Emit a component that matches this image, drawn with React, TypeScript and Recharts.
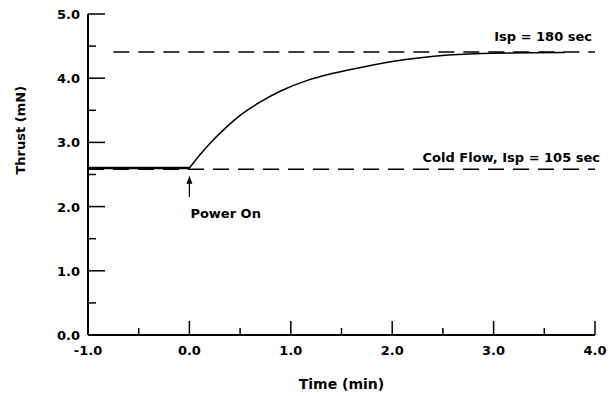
import React from 'react';
import { ComposedChart, Line, XAxis, YAxis, ReferenceLine } from 'recharts';

// thrust trace (time in min, thrust in mN)
const times = [-1.0, 0.0, 0.1, 0.2, 0.36, 0.5, 0.7, 0.9, 1.17, 1.43, 1.76, 2.0, 2.28, 2.55, 3.0, 3.7];
const coldFlow = [2.6, 2.6];
const heated = [2.6, 2.8, 2.98, 3.23, 3.42, 3.63, 3.8, 3.97, 4.08, 4.19, 4.26, 4.32, 4.36, 4.39, 4.4];

const xTicks = [-1, -0.5, 0, 0.5, 1, 1.5, 2, 2.5, 3, 3.5, 4];
const yTicks = [0, 0.5, 1, 1.5, 2, 2.5, 3, 3.5, 4, 4.5, 5];

const ispHot = 4.41;
const ispCold = 2.58;
const hotLabel = 'Isp = 180 sec';
const coldLabel = 'Cold Flow, Isp = 105 sec';

const data = times.map((t, i) => ({
  t,
  flat: i < coldFlow.length ? coldFlow[i] : null,
  curve: i >= 1 ? heated[i - 1] : null,
}));

const FONT = '"DejaVu Sans", sans-serif';

const isMajor = (v: number) => Math.abs(v - Math.round(v)) < 1e-6;

const YTick = (props: any) => {
  const { x, y, payload } = props;
  const ax = x + 8;
  const major = isMajor(payload.value);
  return (
    <g>
      <line x1={ax} x2={ax + (major ? 17 : 8)} y1={y} y2={y} stroke="#000" strokeWidth={1.5} />
      {major && (
        <text x={x} y={y + 5} textAnchor="end" fontFamily={FONT} fontWeight="bold" fontSize={13} fill="#000">
          {payload.value.toFixed(1)}
        </text>
      )}
    </g>
  );
};

const XTick = (props: any) => {
  const { x, y, payload } = props;
  const ay = y - 8;
  const major = isMajor(payload.value);
  return (
    <g>
      <line x1={x} x2={x} y1={ay} y2={ay - (major ? 14 : 7)} stroke="#000" strokeWidth={1.5} />
      {major && (
        <text x={x} y={ay + 20} textAnchor="middle" fontFamily={FONT} fontWeight="bold" fontSize={13} fill="#000">
          {payload.value.toFixed(1)}
        </text>
      )}
    </g>
  );
};

const PowerOn = (props: any) => {
  const { x1, y1, y2 } = props;
  const top = Math.min(y1, y2);
  const bottom = Math.max(y1, y2);
  return (
    <g>
      <line x1={x1} x2={x1} y1={top + 6} y2={bottom} stroke="#000" strokeWidth={1.2} />
      <polygon points={`${x1},${top} ${x1 - 3},${top + 8} ${x1 + 3},${top + 8}`} fill="#000" />
      <text x={x1 + 1} y={bottom + 21} fontFamily={FONT} fontWeight="bold" fontSize={13} fill="#000">
        Power On
      </text>
    </g>
  );
};

const lineLabel = (text: string, dx: number, dy: number) => (p: any) => {
  const vb = p.viewBox;
  return (
    <text x={vb.x + vb.width + dx} y={vb.y - dy} textAnchor="end" fontFamily={FONT} fontWeight="bold" fontSize={13} fill="#000">
      {text}
    </text>
  );
};

export default function App() {
  return (
    <div style={{ position: 'absolute', left: 0, top: 0, background: '#fff' }}>
      <ComposedChart width={616} height={396} data={data} margin={{ top: 14, right: 21, bottom: 21, left: 28 }}>
        <XAxis
          dataKey="t"
          type="number"
          domain={[-1, 4]}
          ticks={xTicks}
          interval={0}
          tickSize={0}
          tickMargin={8}
          tick={<XTick />}
          height={40}
          axisLine={{ stroke: '#000', strokeWidth: 2 }}
          label={{ value: 'Time (min)', position: 'insideBottom', offset: -14, fontFamily: FONT, fontWeight: 'bold', fontSize: 14, fill: '#000' }}
        />
        <YAxis
          type="number"
          domain={[0, 5]}
          ticks={yTicks}
          interval={0}
          tickSize={0}
          tickMargin={8}
          tick={<YTick />}
          width={60}
          axisLine={{ stroke: '#000', strokeWidth: 2 }}
          label={{ value: 'Thrust (mN)', angle: -90, position: 'insideLeft', offset: -8, fontFamily: FONT, fontWeight: 'bold', fontSize: 13, fill: '#000' }}
        />
        <ReferenceLine
          segment={[{ x: -0.75, y: ispHot }, { x: 4, y: ispHot }]}
          stroke="#000"
          strokeWidth={1.5}
          strokeDasharray="16 9"
          label={lineLabel(hotLabel, -3, 11)}
        />
        <ReferenceLine
          segment={[{ x: -1, y: ispCold }, { x: 4, y: ispCold }]}
          stroke="#000"
          strokeWidth={1.5}
          strokeDasharray="16 9"
          label={lineLabel(coldLabel, 5, 7)}
        />
        <ReferenceLine segment={[{ x: 0, y: 2.15 }, { x: 0, y: 2.48 }]} shape={<PowerOn />} />
        <Line dataKey="flat" type="linear" stroke="#000" strokeWidth={2.5} dot={false} isAnimationActive={false} />
        <Line dataKey="curve" type="monotone" stroke="#000" strokeWidth={1.5} dot={false} isAnimationActive={false} />
      </ComposedChart>
    </div>
  );
}
